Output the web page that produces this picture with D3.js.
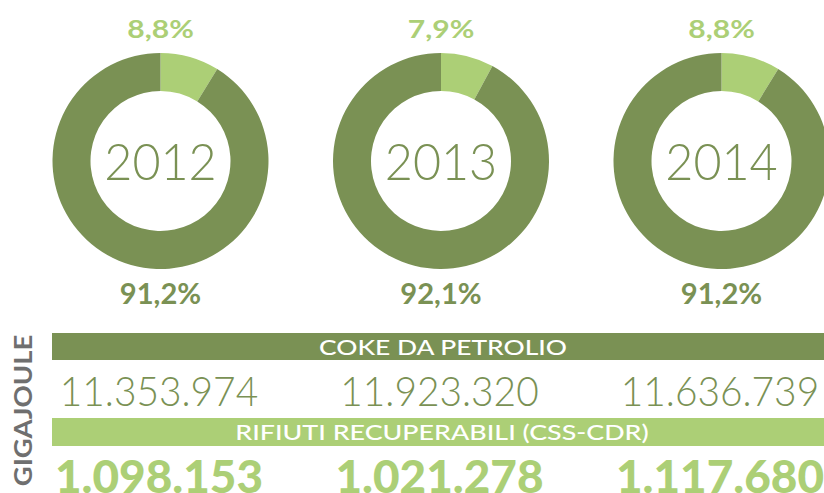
<!DOCTYPE html>
<html>
<head>
<meta charset="utf-8">
<script src="https://cdn.jsdelivr.net/npm/d3@7"></script>
<style>
  html, body { margin: 0; padding: 0; background: #ffffff; }
  svg { display: block; }
  text { font-family: Lato, "Open Sans", sans-serif; }
</style>
</head>
<body>
<svg id="chart" width="824" height="493"></svg>
<script>
// ---- data ----
const years = ["2012", "2013", "2014"];
const rifiutiPct = [8.8, 7.9, 8.8];
const cokePct = [91.2, 92.1, 91.2];
const cokeValues = [11353974, 11923320, 11636739];
const rifiutiValues = [1098153, 1021278, 1117680];
const cokeLabel = "COKE DA PETROLIO";
const rifiutiLabel = "RIFIUTI RECUPERABILI (CSS-CDR)";
const unitLabel = "GIGAJOULE";

// ---- styles ----
const dark = "#7a9154";
const light = "#accf76";
const grey = "#6f6f6f";

const W = 824, H = 493;
const svg = d3.select("#chart");

const x = d3.scalePoint().domain(years).range([160.5, 721.5]);
const cy = 161;
const rOuter = 108, rInner = 70;

const fmtPct = v => d3.format(".1f")(v).replace(".", ",") + "%";
const itLocale = d3.formatLocale({decimal: ",", thousands: ".", grouping: [3], currency: ["€", ""]});
const fmtNum = itLocale.format(",d");

// stretch a text horizontally by a style factor (emulates a wider typeface)
function widen(sel, factor) {
  sel.each(function() {
    const w = this.getComputedTextLength();
    d3.select(this).attr("textLength", w * factor).attr("lengthAdjust", "spacingAndGlyphs");
  });
  return sel;
}

const pie = d3.pie().sort(null).value(d => d.v);
const arc = d3.arc().innerRadius(rInner).outerRadius(rOuter);

years.forEach((y, i) => {
  const g = svg.append("g").attr("transform", `translate(${x(y)},${cy})`);
  const slices = pie([{k: "rifiuti", v: rifiutiPct[i]}, {k: "coke", v: cokePct[i]}]);
  g.selectAll("path").data(slices).join("path")
    .attr("d", arc)
    .attr("fill", d => d.data.k === "rifiuti" ? light : dark);
  widen(g.append("text")
    .attr("text-anchor", "middle")
    .attr("y", 19)
    .attr("fill", dark)
    .attr("font-size", 51)
    .attr("font-weight", 300)
    .text(y), 0.95);
  // top label
  widen(svg.append("text")
    .attr("x", x(y)).attr("y", 38)
    .attr("text-anchor", "middle")
    .attr("fill", light)
    .attr("font-size", 25.5)
    .attr("font-weight", 700)
    .text(fmtPct(rifiutiPct[i])), 1.18);
  widen(svg.append("text")
    .attr("x", x(y)).attr("y", 303.5)
    .attr("text-anchor", "middle")
    .attr("fill", dark)
    .attr("font-size", 28)
    .attr("font-weight", 700)
    .text(fmtPct(cokePct[i])), 1.04);
});

// bars
const barX = 52;
svg.append("rect").attr("x", barX).attr("y", 333).attr("width", W - barX).attr("height", 27).attr("fill", dark);
svg.append("rect").attr("x", barX).attr("y", 418).attr("width", W - barX).attr("height", 28).attr("fill", light);

widen(svg.append("text").attr("x", 443).attr("y", 355)
  .attr("text-anchor", "middle").attr("fill", "#fff")
  .attr("font-size", 22).attr("font-weight", 500)
  .text(cokeLabel), 1.2);
widen(svg.append("text").attr("x", 442).attr("y", 439.5)
  .attr("text-anchor", "middle").attr("fill", "#fff")
  .attr("font-size", 22).attr("font-weight", 500)
  .text(rifiutiLabel), 1.22);

years.forEach((y, i) => {
  widen(svg.append("text")
    .attr("x", x(y) - 1.5).attr("y", 406)
    .attr("text-anchor", "middle").attr("fill", dark)
    .attr("font-size", 42).attr("font-weight", 300)
    .text(fmtNum(cokeValues[i])), 0.925);
  widen(svg.append("text")
    .attr("x", x(y) - 1.5).attr("y", 493)
    .attr("text-anchor", "middle").attr("fill", light)
    .attr("font-size", 45).attr("font-weight", 900)
    .text(fmtNum(rifiutiValues[i])), 1.02);
});

widen(svg.append("text")
  .attr("transform", "translate(32,410.5) rotate(-90)")
  .attr("text-anchor", "middle").attr("fill", grey)
  .attr("font-size", 25).attr("font-weight", 700)
  .text(unitLabel), 1.1);
</script>
</body>
</html>
